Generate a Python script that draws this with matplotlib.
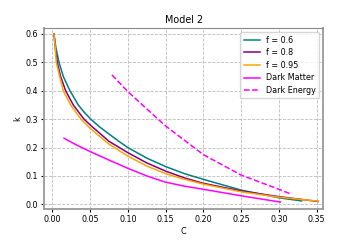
"""Model 2: k versus C for several f values, with dark matter / dark energy curves"""

import matplotlib
matplotlib.use('Agg')
import matplotlib.pyplot as plt

plt.rcParams['font.family'] = ['DejaVu Sans']
plt.rcParams['font.size'] = 5.8

##
# DATA
c_f06 = [0.0022, 0.0049, 0.0089, 0.0146, 0.0234, 0.0344, 0.042, 0.051, 0.062, 0.075, 0.087,
         0.100, 0.125, 0.150, 0.175, 0.200, 0.250, 0.300, 0.330]
k_f06 = [0.600, 0.550, 0.500, 0.450, 0.400, 0.350, 0.325, 0.300, 0.274, 0.248, 0.224,
         0.200, 0.163, 0.133, 0.108, 0.088, 0.050, 0.023, 0.012]

c_f08 = [0.0022, 0.0040, 0.0066, 0.0110, 0.0177, 0.0278, 0.042, 0.050, 0.075, 0.100,
         0.125, 0.150, 0.175, 0.200, 0.250, 0.300, 0.352]
k_f08 = [0.600, 0.550, 0.500, 0.450, 0.400, 0.350, 0.300, 0.280, 0.222, 0.182,
         0.146, 0.117, 0.093, 0.074, 0.047, 0.027, 0.010]

c_f095 = [0.0022, 0.0040, 0.0053, 0.0098, 0.0146, 0.0243, 0.038, 0.050, 0.075, 0.100,
          0.125, 0.150, 0.175, 0.200, 0.250, 0.300, 0.352]
k_f095 = [0.600, 0.550, 0.500, 0.450, 0.400, 0.350, 0.300, 0.268, 0.212, 0.170,
          0.135, 0.108, 0.088, 0.071, 0.044, 0.025, 0.011]

c_dm = [0.0155, 0.030, 0.050, 0.075, 0.100, 0.125, 0.150, 0.175, 0.200, 0.250, 0.302]
k_dm = [0.233, 0.212, 0.186, 0.156, 0.127, 0.100, 0.078, 0.064, 0.053, 0.030, 0.008]

c_de = [0.079, 0.100, 0.150, 0.200, 0.250, 0.300, 0.317]
k_de = [0.456, 0.397, 0.276, 0.175, 0.103, 0.053, 0.035]

xticks = [0.00, 0.05, 0.10, 0.15, 0.20, 0.25, 0.30, 0.35]
yticks = [0.0, 0.1, 0.2, 0.3, 0.4, 0.5, 0.6]

##
fig = plt.figure(figsize=(3.6, 2.4), dpi=100)
ax = fig.add_axes([0.123, 0.129, 0.775, 0.753])

lw = 1.1
ax.plot(c_f06, k_f06, color='teal', lw=lw, label='f = 0.6')
ax.plot(c_f08, k_f08, color='purple', lw=lw, label='f = 0.8')
ax.plot(c_f095, k_f095, color='orange', lw=lw, label='f = 0.95')
ax.plot(c_dm, k_dm, color='magenta', lw=lw, label='Dark Matter')
ax.plot(c_de, k_de, color='magenta', lw=lw, linestyle='--', label='Dark Energy')

ax.set_xlim(-0.0106, 0.3587)
ax.set_ylim(-0.0166, 0.62)
ax.set_xticks(xticks)
ax.set_yticks(yticks)
ax.set_xticklabels(['%.2f' % t for t in xticks])
ax.set_yticklabels(['%.1f' % t for t in yticks])
ax.tick_params(length=2.5, width=0.8, pad=2)

ax.grid(True, linestyle='--', color='#bbbbbb', linewidth=0.6)
for side in ['left', 'bottom', 'right']:
    ax.spines[side].set_color('#999999')
    ax.spines[side].set_linewidth(1.3)
ax.spines['top'].set_color('#888888')
ax.spines['top'].set_linewidth(0.8)

ax.set_xlabel('C', labelpad=2)
ax.set_ylabel('k', labelpad=2)
ax.set_title('Model 2', fontsize=6.9, pad=4)
ax.legend(loc='upper right', fontsize=5.8, framealpha=0.8, borderpad=0.4,
          labelspacing=0.45, handlelength=2.0)

plt.savefig('out.png', dpi=100)
plt.close()
